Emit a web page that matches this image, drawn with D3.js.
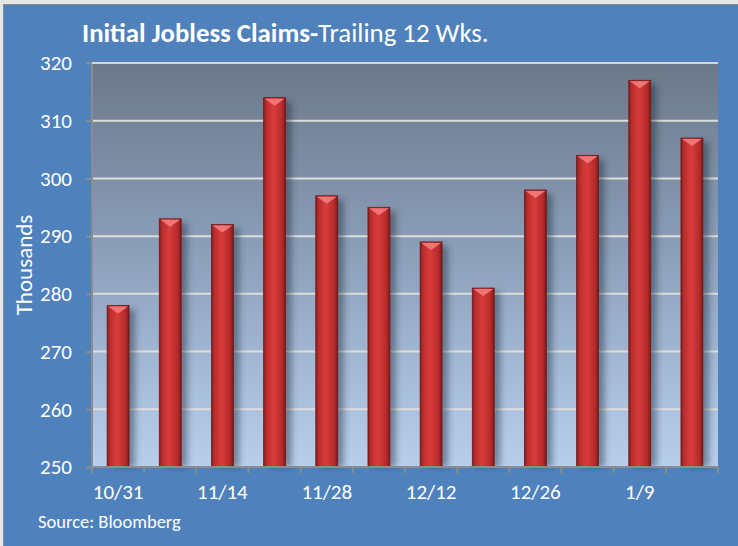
<!DOCTYPE html>
<html>
<head>
<meta charset="utf-8">
<script src="https://cdn.jsdelivr.net/npm/d3@7"></script>
<style>
  body { margin: 0; background: #fff; }
  svg { display: block; font-family: Carlito, Lato, "Open Sans", sans-serif; }
</style>
</head>
<body>
<script>
// weekly initial claims, thousands
const weeks = ['10/31', '11/7', '11/14', '11/21', '11/28', '12/5', '12/12', '12/19', '12/26', '1/2', '1/9', '1/16'];
const claims = [278, 293, 292, 314, 297, 295, 289, 281, 298, 304, 317, 307];
const tickLabels = ['10/31', '11/14', '11/28', '12/12', '12/26', '1/9'];
const yTicks = [250, 260, 270, 280, 290, 300, 310, 320];

const width = 738, height = 546;
const margin = { top: 63, right: 20, bottom: 79, left: 92 };

const svg = d3.select('body').append('svg')
    .attr('width', width)
    .attr('height', height);

const defs = svg.append('defs');

// plot background gradient
const bg = defs.append('linearGradient')
    .attr('id', 'plotBg')
    .attr('x1', 0).attr('y1', 0).attr('x2', 0).attr('y2', 1);
bg.append('stop').attr('offset', 0).attr('stop-color', '#6b7889');
bg.append('stop').attr('offset', 0.5).attr('stop-color', '#8ea2bd');
bg.append('stop').attr('offset', 1).attr('stop-color', '#b8cfec');

// bar body gradient
const barGrad = defs.append('linearGradient')
    .attr('id', 'barGrad')
    .attr('x1', 0).attr('y1', 0).attr('x2', 1).attr('y2', 0);
barGrad.append('stop').attr('offset', 0).attr('stop-color', '#7d1c1c');
barGrad.append('stop').attr('offset', 0.12).attr('stop-color', '#b82c2c');
barGrad.append('stop').attr('offset', 0.45).attr('stop-color', '#d93c3c');
barGrad.append('stop').attr('offset', 0.85).attr('stop-color', '#b42a2a');
barGrad.append('stop').attr('offset', 1).attr('stop-color', '#741919');

const shadow = defs.append('filter').attr('id', 'blur')
    .attr('x', '-50%').attr('y', '-10%').attr('width', '200%').attr('height', '120%');
shadow.append('feGaussianBlur').attr('stdDeviation', 3);

// outer frame
svg.append('rect')
    .attr('x', 0).attr('y', 0).attr('width', width).attr('height', height)
    .attr('fill', '#e6e6e6');
svg.append('rect')
    .attr('x', 3.5).attr('y', 4.5).attr('width', width).attr('height', height)
    .attr('fill', '#4f81bd')
    .attr('stroke', '#8a8a8a');

const x = d3.scaleBand()
    .domain(weeks)
    .range([margin.left, width - margin.right])
    .paddingInner(0.58)
    .paddingOuter(0.29);

const y = d3.scaleLinear()
    .domain([250, 320])
    .range([height - margin.bottom, margin.top]);

const plotW = width - margin.right - margin.left;

svg.append('rect')
    .attr('x', margin.left).attr('y', margin.top)
    .attr('width', plotW)
    .attr('height', y(250) - y(320))
    .attr('fill', 'url(#plotBg)');

// gridlines
svg.append('g')
    .selectAll('line')
    .data(yTicks.filter(d => d > 250))
    .join('line')
    .attr('x1', margin.left).attr('x2', width - margin.right)
    .attr('y1', d => y(d)).attr('y2', d => y(d))
    .attr('stroke', '#dedede')
    .attr('stroke-width', 2);

// bars
const bars = svg.append('g')
    .selectAll('g')
    .data(weeks.map((w, i) => ({ week: w, value: claims[i] })))
    .join('g');

bars.append('rect')
    .attr('x', d => x(d.week) + 6)
    .attr('y', d => y(d.value) + 4)
    .attr('width', x.bandwidth())
    .attr('height', d => y(250) - y(d.value) - 4)
    .attr('fill', '#1f2a3a')
    .attr('opacity', 0.45)
    .attr('filter', 'url(#blur)');

bars.append('rect')
    .attr('x', d => x(d.week))
    .attr('y', d => y(d.value))
    .attr('width', x.bandwidth())
    .attr('height', d => y(250) - y(d.value))
    .attr('fill', 'url(#barGrad)')
    .attr('stroke', '#6e1a1a')
    .attr('stroke-width', 0.8);

// bevel cap on top
bars.append('path')
    .attr('d', d => {
        const x0 = x(d.week), x1 = x0 + x.bandwidth(), y0 = y(d.value);
        const xm = (x0 + x1) / 2;
        return 'M' + (x0 + 1) + ',' + (y0 + 1) + 'L' + (x1 - 1) + ',' + (y0 + 1) + 'L' + xm + ',' + (y0 + 8) + 'Z';
    })
    .attr('fill', '#f07575');

// axes
const axisY = svg.append('g')
    .attr('transform', 'translate(' + margin.left + ',0)')
    .call(d3.axisLeft(y).tickValues(yTicks).tickSize(6).tickPadding(14));

const axisX = svg.append('g')
    .attr('transform', 'translate(0,' + (height - margin.bottom) + ')')
    .call(d3.axisBottom(x).tickValues(weeks).tickSize(0).tickPadding(17)
        .tickFormat(d => tickLabels.includes(d) ? d : ''));

// boundary ticks between categories
const step = x.step();
svg.append('g')
    .selectAll('line')
    .data(d3.range(weeks.length + 1))
    .join('line')
    .attr('x1', i => margin.left + i * step).attr('x2', i => margin.left + i * step)
    .attr('y1', height - margin.bottom).attr('y2', height - margin.bottom + 6)
    .attr('stroke', '#8c8c8c')
    .attr('stroke-width', 2);

[axisY, axisX].forEach(a => {
    a.select('.domain').attr('stroke', '#8c8c8c').attr('stroke-width', 2);
    a.selectAll('.tick line').attr('stroke', '#8c8c8c').attr('stroke-width', 2);
    a.selectAll('text')
        .attr('fill', '#fff')
        .attr('font-size', 21)
        .attr('font-family', 'Carlito, Lato, "Open Sans", sans-serif');
});
axisY.select('.domain').attr('d', 'M-6,' + y(320) + 'H0V' + y(250));
axisX.select('.domain').attr('d', 'M' + margin.left + ',0H' + (width - margin.right));

// top border line at 320
svg.append('line')
    .attr('x1', margin.left).attr('x2', width - margin.right)
    .attr('y1', y(320)).attr('y2', y(320))
    .attr('stroke', '#d6d6d6').attr('stroke-width', 2);

// title
const title = svg.append('text')
    .attr('x', 82).attr('y', 42)
    .attr('fill', '#fff')
    .attr('font-size', 26.8);
title.append('tspan').attr('font-weight', 'bold').text('Initial Jobless Claims-');
title.append('tspan').text('Trailing 12 Wks.');

svg.append('text')
    .attr('transform', 'translate(32,' + (y(285)) + ') rotate(-90)')
    .attr('text-anchor', 'middle')
    .attr('fill', '#fff')
    .attr('font-size', 23)
    .text('Thousands');

svg.append('text')
    .attr('x', 38).attr('y', 528)
    .attr('fill', '#fff')
    .attr('font-size', 18.5)
    .text('Source: Bloomberg');
</script>
</body>
</html>
